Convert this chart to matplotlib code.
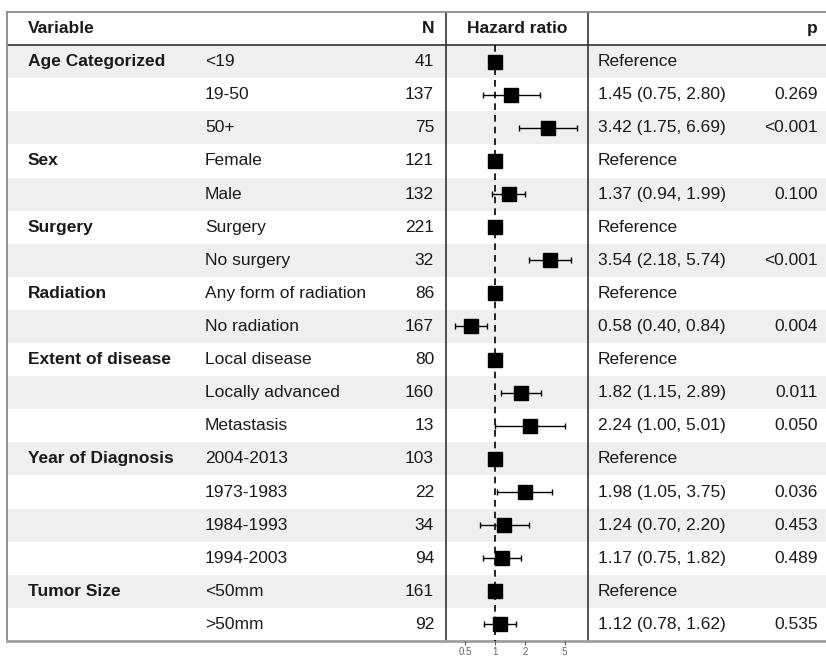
import numpy as np
import matplotlib.pyplot as plt

plt.rcParams['font.family'] = ['Liberation Sans', 'DejaVu Sans']

variables = ['Age Categorized', '', '', 'Sex', '', 'Surgery', '', 'Radiation', '',
             'Extent of disease', '', '', 'Year of Diagnosis', '', '', '', 'Tumor Size', '']
levels = ['<19', '19-50', '50+', 'Female', 'Male', 'Surgery', 'No surgery',
          'Any form of radiation', 'No radiation', 'Local disease', 'Locally advanced',
          'Metastasis', '2004-2013', '1973-1983', '1984-1993', '1994-2003', '<50mm', '>50mm']
n_obs = [41, 137, 75, 121, 132, 221, 32, 86, 167, 80, 160, 13, 103, 22, 34, 94, 161, 92]
hr = [1, 1.45, 3.42, 1, 1.37, 1, 3.54, 1, 0.58, 1, 1.82, 2.24, 1, 1.98, 1.24, 1.17, 1, 1.12]
ci_low = [np.nan, 0.75, 1.75, np.nan, 0.94, np.nan, 2.18, np.nan, 0.40, np.nan, 1.15, 1.00,
          np.nan, 1.05, 0.70, 0.75, np.nan, 0.78]
ci_high = [np.nan, 2.80, 6.69, np.nan, 1.99, np.nan, 5.74, np.nan, 0.84, np.nan, 2.89, 5.01,
           np.nan, 3.75, 2.20, 1.82, np.nan, 1.62]
p_vals = ['', '0.269', '<0.001', '', '0.100', '', '<0.001', '', '0.004', '', '0.011', '0.050',
          '', '0.036', '0.453', '0.489', '', '0.535']
hr_ticks = [0.5, 1, 2, 5]

W, H = 826, 657
fig = plt.figure(figsize=(W / 100, H / 100), dpi=100)

# table area in pixels
x0, x1 = 7, 826
y_top, y_bot = 12, 641
pos = [x0 / W, 1 - y_bot / H, (x1 - x0) / W, (y_bot - y_top) / H]
nrow = len(levels)

ax = fig.add_axes(pos)
ax.set_xlim(x0, x1)
ax.set_ylim(nrow - 0.5, -1.5)
ax.set_xticks([])
ax.set_yticks([])
for s in ['top', 'left']:
    ax.spines[s].set_color('#8a8a8a')
    ax.spines[s].set_linewidth(1.3)
ax.spines['bottom'].set_color('#a0a0a0')
ax.spines['bottom'].set_linewidth(2)
ax.spines['right'].set_visible(False)

# zebra rows
for i in range(nrow):
    if i % 2 == 0:
        ax.axhspan(i - 0.5, i + 0.5, color='#efefef', lw=0, zorder=0)
ax.axhline(-0.5, color='#333333', lw=1.2)
ax.axvline(446, color='#333333', lw=1.2)
ax.axvline(588, color='#333333', lw=1.2)

fs = 12.5
tc = '#1a1a1a'
ax.text(28, -1, 'Variable', fontsize=fs, fontweight='bold', va='center', color=tc)
ax.text(434, -1, 'N', fontsize=fs, fontweight='bold', va='center', ha='right', color=tc)
ax.text(517, -1, 'Hazard ratio', fontsize=fs, fontweight='bold', va='center', ha='center', color=tc)
ax.text(818, -1, 'p', fontsize=fs, fontweight='bold', va='center', ha='right', color=tc)

for i in range(nrow):
    if variables[i]:
        ax.text(28, i, variables[i], fontsize=fs, fontweight='bold', va='center', color=tc)
    ax.text(205, i, levels[i], fontsize=fs, va='center', color=tc)
    ax.text(434, i, str(n_obs[i]), fontsize=fs, va='center', ha='right', color=tc)
    if np.isnan(ci_low[i]):
        est = 'Reference'
    else:
        est = f'{hr[i]:.2f} ({ci_low[i]:.2f}, {ci_high[i]:.2f})'
    ax.text(598, i, est, fontsize=fs, va='center', color=tc)
    ax.text(818, i, p_vals[i], fontsize=fs, va='center', ha='right', color=tc)

# hazard ratio panel
hx0, hx1 = 446, 588
ax2 = fig.add_axes([hx0 / W, pos[1], (hx1 - hx0) / W, pos[3]])
ax2.patch.set_alpha(0)
ax2.set_xscale('log')
ax2.set_xlim(0.3225, 8.57)
ax2.set_ylim(nrow - 0.5, -1.5)
for s in ax2.spines.values():
    s.set_visible(False)
ax2.set_yticks([])
ax2.set_xticks(hr_ticks)
ax2.set_xticklabels([f'{t:g}' for t in hr_ticks])
ax2.minorticks_off()
ax2.tick_params(axis='x', length=3, color='#555555', labelsize=7, labelcolor='#666666', pad=1)
ax2.vlines(1, -0.5, nrow - 0.5, color='black', lw=1.2, linestyles=(0, (4, 3)))

hr_arr = np.array(hr)
lo_arr = np.array(ci_low)
hi_arr = np.array(ci_high)
yy = np.arange(nrow)
has_ci = ~np.isnan(lo_arr)
ax2.errorbar(hr_arr[has_ci], yy[has_ci],
             xerr=[hr_arr[has_ci] - lo_arr[has_ci], hi_arr[has_ci] - hr_arr[has_ci]],
             fmt='none', ecolor='black', elinewidth=1, capsize=2.5, capthick=1)
ax2.plot(hr_arr, yy, 's', color='black', markersize=9.5, linestyle='none')

fig.savefig('out.png', dpi=100)
